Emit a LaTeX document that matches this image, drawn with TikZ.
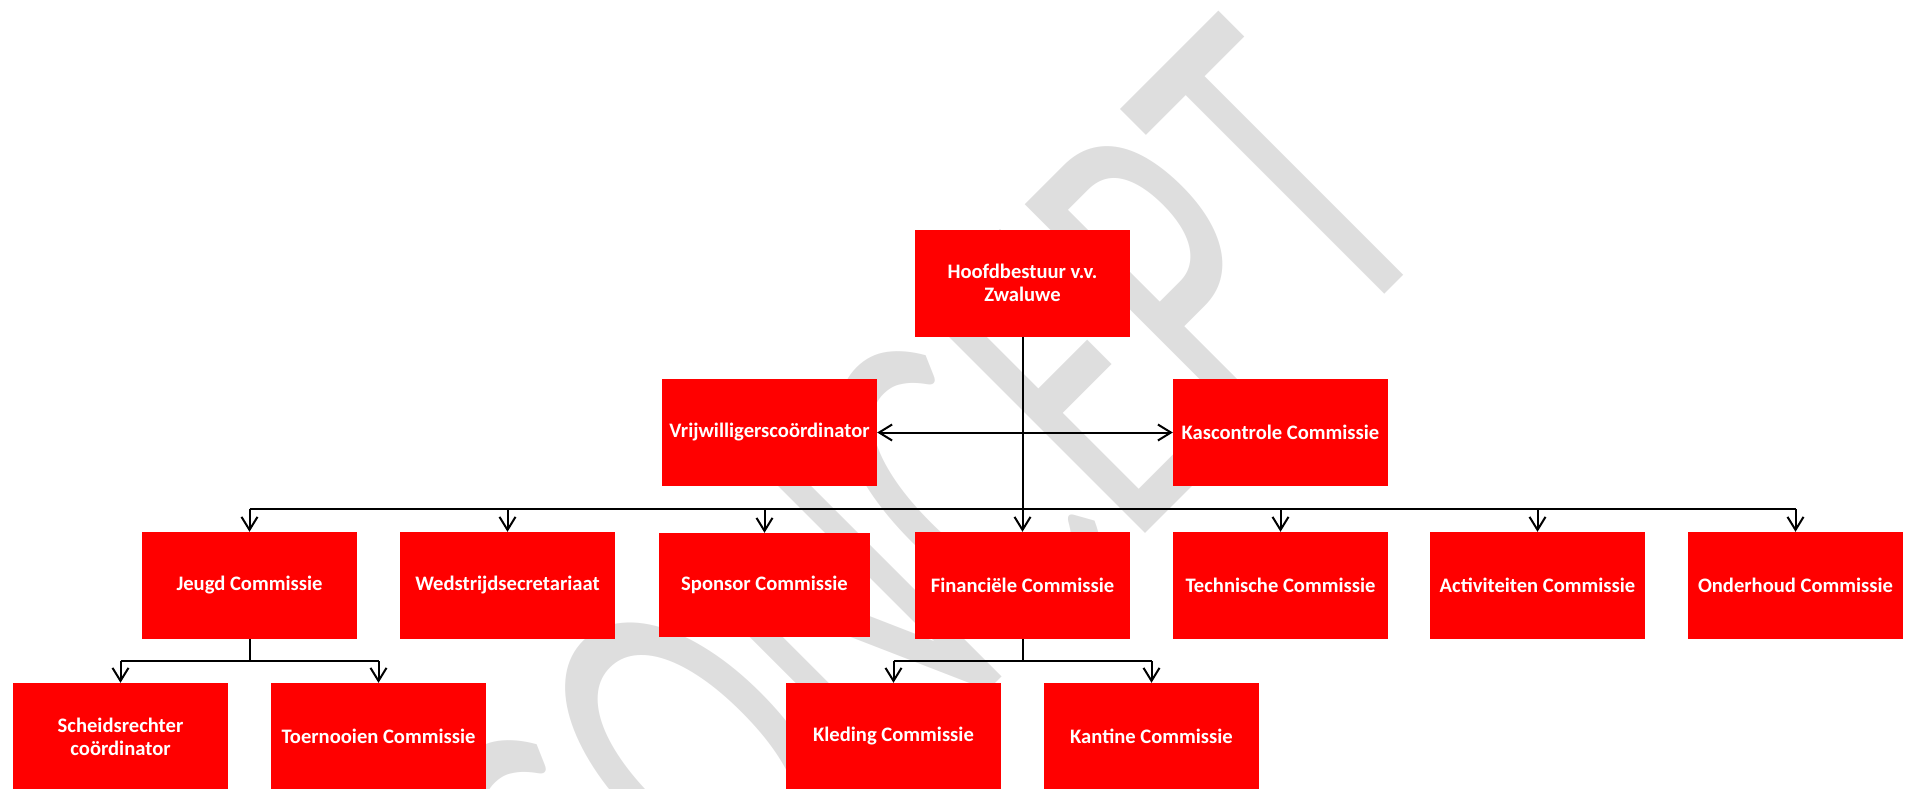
\documentclass[tikz,border=0pt]{standalone}
\usepackage{fontspec}
\setmainfont{Carlito}
\usepackage{graphicx}
\usetikzlibrary{arrows.meta}
\definecolor{boxred}{RGB}{255,0,0}
\definecolor{wmgray}{RGB}{222,222,222}
\begin{document}
\begin{tikzpicture}[x=1pt,y=-1pt,
  orgbox/.style={fill=boxred, text=white, minimum width=215pt, minimum height=107pt, inner sep=2pt, align=center, font=\fontsize{20.6}{23}\selectfont\bfseries},
  conn/.style={line width=2pt, draw=black},
  arr/.style={conn, -{Straight Barb[length=13pt,width=16pt]}},
  dblarr/.style={conn, {Straight Barb[length=13pt,width=16pt]}-{Straight Barb[length=13pt,width=16pt]}},
]
\useasboundingbox (0,0) rectangle (1910,789);
\clip (0,0) rectangle (1910,789);
% watermark
\node[rotate=45, inner sep=0pt, text=wmgray, font=\fontsize{300}{300}\selectfont] (wm) at (925,529) {\scalebox{1}[1.65]{CONCEPT}};
% boxes
\node[orgbox] (hoofd) at (1022.5,283) {Hoofdbestuur v.v.\\Zwaluwe};
\node[orgbox] (vrij) at (769.5,432.5) {Vrijwilligerscoördinator};
\node[orgbox] (kas) at (1280.5,432.5) {Kascontrole Commissie};
\node[orgbox] (jeugd) at (249.5,585.5) {Jeugd Commissie};
\node[orgbox] (wed) at (507.5,585.5) {Wedstrijdsecretariaat};
\node[orgbox, minimum width=211pt, minimum height=104pt] (spon) at (764.5,585) {Sponsor Commissie};
\node[orgbox] (fin) at (1022.5,585.5) {Financiële Commissie};
\node[orgbox] (tech) at (1280.5,585.5) {Technische Commissie};
\node[orgbox] (act) at (1537.5,585.5) {Activiteiten Commissie};
\node[orgbox] (ond) at (1795.5,585.5) {Onderhoud Commissie};
\node[orgbox] (sch) at (120.5,736.5) {Scheidsrechter\\coördinator};
\node[orgbox] (toer) at (378.5,736.5) {Toernooien Commissie};
\node[orgbox] (kled) at (893.5,736.5) {Kleding Commissie};
\node[orgbox] (kant) at (1151.5,736.5) {Kantine Commissie};
% connectors
\coordinate (bus) at (0,509);
\coordinate (jbus) at (0,661);
\coordinate (fbus) at (0,661);
\draw[arr] (hoofd.south) -- (fin.north);
\draw[dblarr] (vrij.east) -- (kas.west);
\draw[conn] (jeugd.north |- bus) -- (ond.north |- bus);
\foreach \b in {jeugd,wed,spon,tech,act,ond}{
  \draw[arr] (\b.north |- bus) -- (\b.north);
}
\draw[conn] (jeugd.south) -- (jeugd.south |- jbus);
\draw[conn] (sch.north |- jbus) -- (toer.north |- jbus);
\draw[arr] (sch.north |- jbus) -- (sch.north);
\draw[arr] (toer.north |- jbus) -- (toer.north);
\draw[conn] (fin.south) -- (fin.south |- fbus);
\draw[conn] (kled.north |- fbus) -- (kant.north |- fbus);
\draw[arr] (kled.north |- fbus) -- (kled.north);
\draw[arr] (kant.north |- fbus) -- (kant.north);
\end{tikzpicture}
\end{document}
